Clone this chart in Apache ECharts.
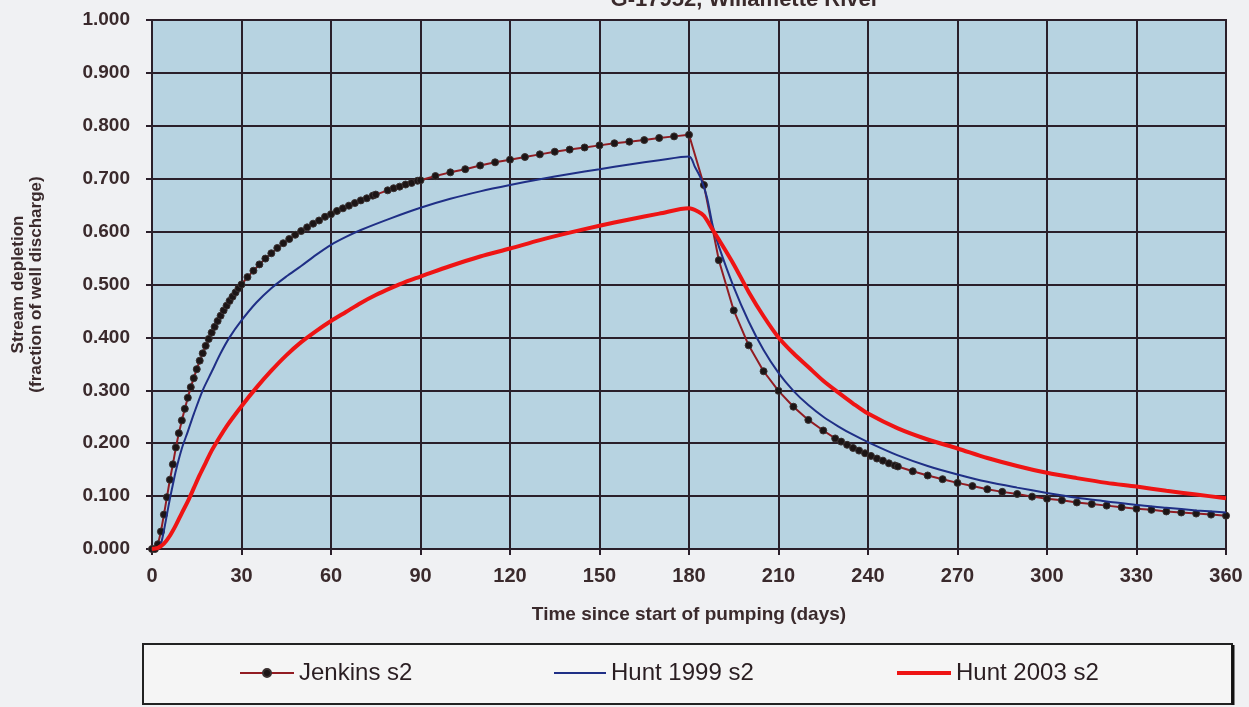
<!DOCTYPE html>
<html>
<head>
<meta charset="utf-8">
<script src="https://cdn.jsdelivr.net/npm/echarts@6/dist/echarts.min.js"></script>
<style>
  html, body { margin: 0; padding: 0; background: #f0f1f3; }
  #chart { width: 1249px; height: 707px; }
</style>
</head>
<body>
<div id="chart"></div>
<script>
// ---- Data ----
const chartTitle = 'G-17952, Willamette River';
const xTicks = [0, 30, 60, 90, 120, 150, 180, 210, 240, 270, 300, 330, 360];
const yTicks = [0, 0.1, 0.2, 0.3, 0.4, 0.5, 0.6, 0.7, 0.8, 0.9, 1.0];

const jenkinsDays = [0,1,2,3,4,5,6,7,8,9,10,11,12,13,14,15,16,17,18,19,20,21,22,23,24,25,26,27,28,29,30,
  32,34,36,38,40,42,44,46,48,50,52,54,56,58,60,62,64,66,68,70,72,74,75,79,81,83,85,87,89,90,
  95,100,105,110,115,120,125,130,135,140,145,150,155,160,165,170,175,180,
  185,190,195,200,205,210,215,220,225,229,231,233,235,237,239,241,243,245,247,249,250,
  255,260,265,270,275,280,285,290,295,300,305,310,315,320,325,330,335,340,345,350,355,360];
const jenkinsValues = [0.000,0.000,0.009,0.033,0.065,0.098,0.131,0.160,0.192,0.219,0.243,0.265,0.286,0.306,0.323,0.340,0.356,0.370,0.384,0.397,0.409,0.420,0.431,0.441,0.451,0.460,0.469,0.477,0.485,0.493,0.500,
  0.514,0.526,0.538,0.549,0.559,0.569,0.578,0.586,0.594,0.601,0.608,0.615,0.621,0.628,0.633,0.639,0.644,0.649,0.654,0.659,0.663,0.668,0.670,0.678,0.682,0.685,0.689,0.692,0.696,0.697,
  0.705,0.712,0.718,0.725,0.731,0.736,0.741,0.746,0.751,0.755,0.759,0.763,0.767,0.770,0.773,0.777,0.780,0.783,
  0.688,0.546,0.451,0.385,0.336,0.299,0.269,0.244,0.224,0.209,0.203,0.197,0.191,0.186,0.181,0.176,0.171,0.167,0.162,0.158,0.156,
  0.147,0.139,0.132,0.125,0.119,0.113,0.108,0.104,0.099,0.095,0.092,0.088,0.085,0.082,0.079,0.076,0.074,0.071,0.069,0.067,0.065,0.063];

const hunt1999Days = [0,2,3,4,5,6,7,8,10,12,14,17,20,23,26,30,35,40,45,50,55,60,65,70,80,90,100,110,120,130,140,150,160,170,180,
  182,184,186,188,190,195,200,205,210,215,220,225,230,235,240,250,260,270,280,290,300,310,320,330,340,350,360];
const hunt1999Values = [0,0.000,0.010,0.035,0.065,0.095,0.122,0.148,0.190,0.222,0.255,0.300,0.335,0.370,0.400,0.432,0.466,0.493,0.515,0.535,0.556,0.575,0.590,0.603,0.625,0.645,0.662,0.676,0.688,0.699,0.709,0.718,0.727,0.735,0.742,
  0.722,0.700,0.665,0.610,0.572,0.495,0.430,0.376,0.333,0.299,0.272,0.250,0.232,0.216,0.202,0.177,0.157,0.141,0.127,0.116,0.106,0.097,0.090,0.083,0.078,0.073,0.069];

const hunt2003Days = [0,2,4,6,8,10,12,14,16,18,20,22,25,30,35,40,45,50,55,60,65,70,75,80,85,90,100,110,120,130,140,150,160,170,180,
  183,185,188,190,195,200,205,210,215,220,225,230,235,240,250,260,270,280,290,300,310,320,330,340,350,360];
const hunt2003Values = [0,0.002,0.010,0.025,0.045,0.068,0.090,0.115,0.140,0.163,0.186,0.205,0.232,0.270,0.305,0.337,0.366,0.391,0.412,0.431,0.448,0.465,0.480,0.493,0.505,0.515,0.535,0.553,0.568,0.584,0.598,0.611,0.623,0.634,0.644,
  0.638,0.630,0.603,0.585,0.538,0.486,0.440,0.400,0.370,0.344,0.318,0.296,0.275,0.256,0.228,0.207,0.190,0.172,0.157,0.144,0.134,0.125,0.118,0.110,0.103,0.096];

const seriesNames = ['Jenkins s2', 'Hunt 1999 s2', 'Hunt 2003 s2'];

// ---- Build chart ----
const zip = (xs, ys) => xs.map((x, i) => [x, ys[i]]);
const textColor = '#3a2a2c';
const gridColor = '#2a1f2a';
const boldFont = 'Liberation Sans, Arial, sans-serif';

const chart = echarts.init(document.getElementById('chart'), null, { renderer: 'canvas' });

const legendText = { fontFamily: boldFont, fontSize: 24, color: '#2a1e22' };

chart.setOption({
  animation: false,
  backgroundColor: '#f0f1f3',
  title: {
    text: chartTitle,
    left: 745,
    textAlign: 'center',
    top: -11,
    padding: 0,
    textStyle: { fontFamily: boldFont, fontWeight: 'bold', fontSize: 22, color: textColor }
  },
  graphic: [
    {
      type: 'rect',
      z: -1,
      shape: { x: 143, y: 644, width: 1089, height: 60 },
      style: { fill: '#f5f5f5', stroke: '#222', lineWidth: 2 }
    },
    {
      type: 'line',
      z: 0,
      shape: { x1: 1233, y1: 645, x2: 1233, y2: 705 },
      style: { stroke: '#111', lineWidth: 3 }
    }
  ],
  legend: [
    { left: 239, top: 661, padding: 0, itemWidth: 54, itemHeight: 10, selectedMode: false,
      textStyle: legendText, data: [seriesNames[0]] },
    { left: 554, top: 661, padding: 0, itemWidth: 52, itemHeight: 2, selectedMode: false,
      textStyle: legendText, data: [{ name: seriesNames[1], icon: 'rect' }] },
    { left: 897, top: 661, padding: 0, itemWidth: 54, itemHeight: 4, selectedMode: false,
      textStyle: legendText, data: [{ name: seriesNames[2], icon: 'rect' }] }
  ],
  grid: {
    left: 152, right: 23, top: 20, bottom: 158,
    outerBoundsMode: 'none',
    containLabel: false,
    show: true,
    backgroundColor: '#b7d3e1',
    borderColor: gridColor,
    borderWidth: 2
  },
  xAxis: {
    type: 'value',
    min: xTicks[0],
    max: xTicks[xTicks.length - 1],
    interval: 30,
    name: 'Time since start of pumping (days)',
    nameLocation: 'middle',
    nameGap: 56,
    nameTextStyle: { fontFamily: boldFont, fontWeight: 'bold', fontSize: 19, color: textColor },
    axisLine: { show: true, lineStyle: { color: gridColor, width: 2 } },
    axisTick: { show: true, length: 6, lineStyle: { color: gridColor, width: 2 } },
    axisLabel: { margin: 17, fontFamily: boldFont, fontWeight: 'bold', fontSize: 20, color: textColor },
    splitLine: { show: true, lineStyle: { color: gridColor, width: 2 } }
  },
  yAxis: {
    type: 'value',
    min: yTicks[0],
    max: yTicks[yTicks.length - 1],
    interval: 0.1,
    name: 'Stream depletion\n(fraction of well discharge)',
    nameLocation: 'middle',
    nameRotate: 90,
    nameGap: 107,
    nameTextStyle: { fontFamily: boldFont, fontWeight: 'bold', fontSize: 17, color: textColor, lineHeight: 18 },
    axisLine: { show: true, lineStyle: { color: gridColor, width: 2 } },
    axisTick: { show: true, length: 6, lineStyle: { color: gridColor, width: 2 } },
    axisLabel: {
      margin: 22,
      fontFamily: boldFont, fontWeight: 'bold', fontSize: 19, color: textColor,
      formatter: v => v.toFixed(3)
    },
    splitLine: { show: true, lineStyle: { color: gridColor, width: 2 } }
  },
  series: [
    {
      name: seriesNames[0],
      type: 'line',
      data: zip(jenkinsDays, jenkinsValues),
      symbol: 'circle',
      symbolSize: 7,
      showAllSymbol: true,
      itemStyle: { color: '#1c1516', borderColor: '#3a3030', borderWidth: 1 },
      lineStyle: { color: '#921c22', width: 2 },
      z: 3
    },
    {
      name: seriesNames[1],
      type: 'line',
      data: zip(hunt1999Days, hunt1999Values),
      symbol: 'none',
      smooth: 0.3,
      itemStyle: { color: '#1f2f86' },
      lineStyle: { color: '#1f2f86', width: 2 },
      z: 4
    },
    {
      name: seriesNames[2],
      type: 'line',
      data: zip(hunt2003Days, hunt2003Values),
      symbol: 'none',
      smooth: 0.3,
      itemStyle: { color: '#ee1414' },
      lineStyle: { color: '#ee1414', width: 4 },
      z: 5
    }
  ]
});
</script>
</body>
</html>
